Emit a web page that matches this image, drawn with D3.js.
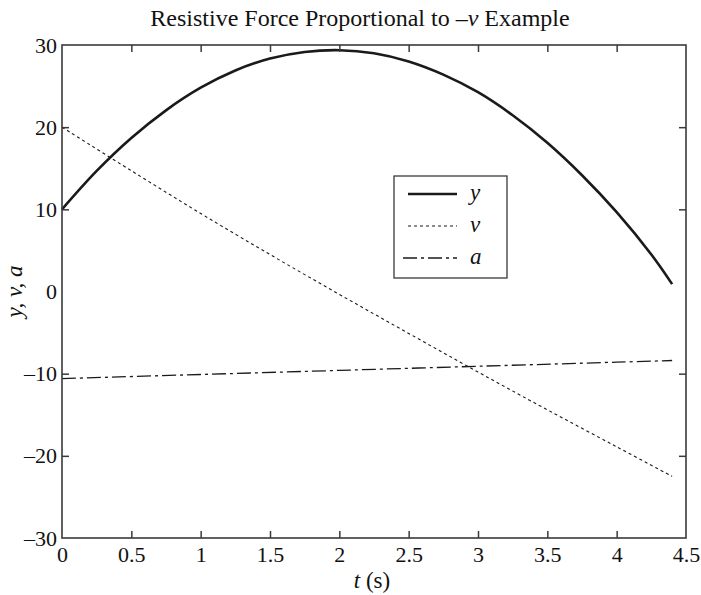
<!DOCTYPE html>
<html>
<head>
<meta charset="utf-8">
<script src="https://cdn.jsdelivr.net/npm/d3@7"></script>
<style>
  html, body { margin: 0; padding: 0; background: #fff; }
  svg { display: block; font-family: "Liberation Serif", "Times New Roman", serif; }
</style>
</head>
<body>
<svg id="chart" width="701" height="595"></svg>
<script>
// Time samples (s) and the three series: position y, velocity v, acceleration a
const tY = [0, 0.25, 0.5, 0.75, 1.0, 1.25, 1.5, 1.75, 2.0, 2.25, 2.5, 2.75, 3.0, 3.25, 3.5, 3.75, 4.0, 4.25, 4.4];
const yVals = [10, 14.67, 18.68, 22.05, 24.8, 26.9, 28.35, 29.15, 29.37, 29.0, 28.0, 26.4, 24.25, 21.45, 18.1, 14.15, 9.65, 4.5, 0.9];

const tV = [0, 0.5, 1.0, 1.5, 2.0, 2.5, 3.0, 3.5, 4.0, 4.4];
const vVals = [20, 14.7, 9.5, 4.5, -0.35, -5.1, -9.8, -14.4, -18.9, -22.5];

const tA = [0, 1.0, 2.0, 3.0, 4.0, 4.4];
const aVals = [-10.6, -10.1, -9.6, -9.1, -8.6, -8.4];

const xTicks = [0, 0.5, 1, 1.5, 2, 2.5, 3, 3.5, 4, 4.5];
const yTicks = [-30, -20, -10, 0, 10, 20, 30];
const xTickLabels = ["0", "0.5", "1", "1.5", "2", "2.5", "3", "3.5", "4", "4.5"];
const yTickLabels = ["–30", "–20", "–10", "0", "10", "20", "30"];

const legendNames = ["y", "v", "a"];

const svg = d3.select("#chart");
const W = 701, H = 595;
const margin = { left: 62, right: W - 686, top: 45, bottom: H - 538 };
const x = d3.scaleLinear().domain([0, 4.5]).range([margin.left, W - margin.right]);
const y = d3.scaleLinear().domain([-30, 30]).range([H - margin.bottom, margin.top]);

const axisColor = "#3a3a3a";
const inkColor = "#1a1a1a";
const textColor = "#111";
const tickLen = 7;

// Series lines
const series = [
  { t: tY, v: yVals, width: 2.6, dash: null },
  { t: tV, v: vVals, width: 1.1, dash: "3,3" },
  { t: tA, v: aVals, width: 1.3, dash: "14,4,3,4" }
];
const line = d3.line().curve(d3.curveCatmullRom.alpha(0.5));
series.forEach(s => {
  const pts = s.t.map((t, i) => [x(t), y(s.v[i])]);
  svg.append("path")
    .attr("d", line(pts))
    .attr("fill", "none")
    .attr("stroke", inkColor)
    .attr("stroke-width", s.width)
    .attr("stroke-dasharray", s.dash);
});

// Axes: ticks point inward on all four sides
function styleAxis(g) {
  g.select(".domain").remove();
  g.selectAll(".tick line").attr("stroke", axisColor).attr("stroke-width", 1.5);
  g.selectAll(".tick text").attr("fill", textColor).style("font-size", "22px")
    .style("font-family", "'Liberation Serif', 'Times New Roman', serif");
}
svg.append("g").attr("transform", `translate(0,${y(-30)})`)
  .call(d3.axisBottom(x).tickValues(xTicks).tickSizeInner(-tickLen).tickSizeOuter(0).tickPadding(8)
    .tickFormat((d, i) => xTickLabels[i]))
  .call(styleAxis);
svg.append("g").attr("transform", `translate(0,${y(30)})`)
  .call(d3.axisTop(x).tickValues(xTicks).tickSizeInner(-tickLen).tickSizeOuter(0).tickFormat(""))
  .call(styleAxis);
svg.append("g").attr("transform", `translate(${x(0)},0)`)
  .call(d3.axisLeft(y).tickValues(yTicks).tickSizeInner(-tickLen).tickSizeOuter(0).tickPadding(5)
    .tickFormat((d, i) => yTickLabels[i]))
  .call(styleAxis);
svg.append("g").attr("transform", `translate(${x(4.5)},0)`)
  .call(d3.axisRight(y).tickValues(yTicks).tickSizeInner(-tickLen).tickSizeOuter(0).tickFormat(""))
  .call(styleAxis);

// Tick marks on the box corners are covered by the frame itself
svg.selectAll(".tick").filter(d => d === 0 || d === 4.5 || d === 30 || d === -30).select("line").remove();

// Axes box
svg.append("rect")
  .attr("x", x(0)).attr("y", y(30))
  .attr("width", x(4.5) - x(0)).attr("height", y(-30) - y(30))
  .attr("fill", "none").attr("stroke", axisColor).attr("stroke-width", 1.6);

// Title and axis labels
const midX = (x(0) + x(4.5)) / 2;
const title = svg.append("text").attr("x", midX - 14).attr("y", 26).attr("text-anchor", "middle")
  .style("font-size", "24px").attr("fill", textColor);
title.append("tspan").text("Resistive Force Proportional to –");
title.append("tspan").style("font-style", "italic").text("v");
title.append("tspan").text(" Example");

const xl = svg.append("text").attr("x", midX - 2).attr("y", 588).attr("text-anchor", "middle")
  .style("font-size", "23px").attr("fill", textColor);
xl.append("tspan").style("font-style", "italic").text("t");
xl.append("tspan").text(" (s)");

svg.append("text")
  .attr("transform", `translate(22,${y(0)}) rotate(-90)`)
  .attr("text-anchor", "middle")
  .style("font-size", "23px").style("font-style", "italic").attr("fill", textColor)
  .text("y, v, a");

// Legend
const lg = svg.append("g");
lg.append("rect").attr("x", 394).attr("y", 176).attr("width", 113).attr("height", 102)
  .attr("fill", "#fff").attr("stroke", axisColor).attr("stroke-width", 1.3);
legendNames.forEach((name, i) => {
  const cy = 194 + i * 32;
  lg.append("line")
    .attr("x1", i === 2 ? 403 : 408).attr("x2", 457).attr("y1", cy).attr("y2", cy)
    .attr("stroke", inkColor)
    .attr("stroke-width", series[i].width)
    .attr("stroke-dasharray", series[i].dash);
  lg.append("text").attr("x", 470).attr("y", cy + 6)
    .style("font-size", "23px").style("font-style", "italic").attr("fill", textColor)
    .text(name);
});
</script>
</body>
</html>
